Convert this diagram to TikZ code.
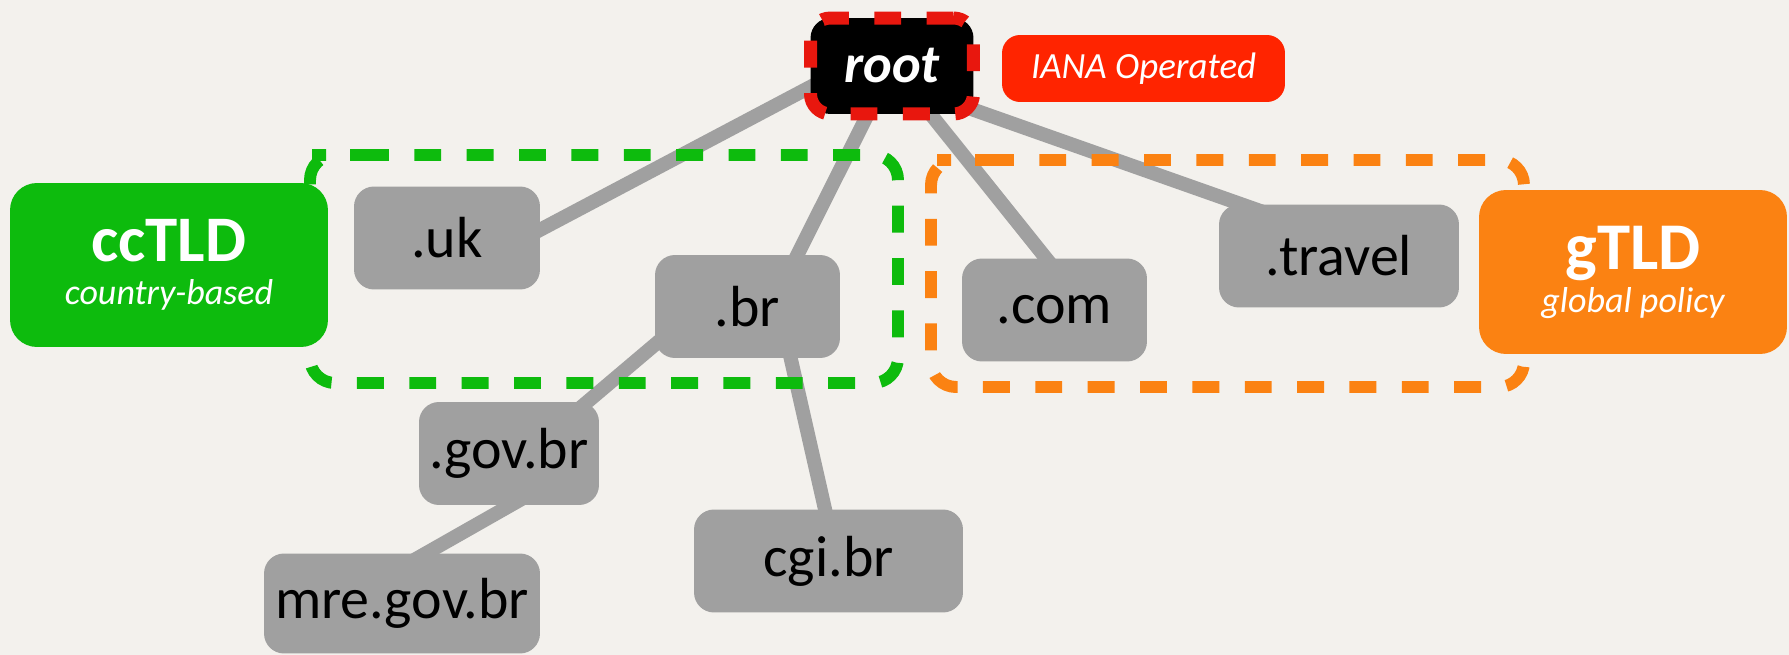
\documentclass[tikz,border=0pt]{standalone}
\usepackage{fontspec}
\setmainfont{Carlito}
\usepackage{xcolor}
\usepackage{tikz}
\usetikzlibrary{calc,backgrounds}
\definecolor{paper}{HTML}{F3F1ED}
\definecolor{boxgrey}{HTML}{A0A0A0}
\definecolor{ccgreen}{HTML}{0DBB0D}
\definecolor{gorange}{HTML}{FB8212}
\definecolor{ianared}{HTML}{FF2400}
\definecolor{rootred}{HTML}{E8170E}
\tikzset{
  Domain/.style={
    fill=boxgrey, text=black,
    rounded corners=0.4cm, inner sep=0pt,
    minimum height=2.06cm,
    font=\fontsize{33}{36}\selectfont
  },
  TagBox/.style={
    text=white, inner sep=0pt, align=center,
    rounded corners=0.54cm,
    minimum width=6.3cm, minimum height=3.28cm,
    font=\fontsize{20.5}{33}\selectfont
  },
  Link/.style={draw=boxgrey, line width=8pt},
  Zone/.style={
    line width=6.8pt,
    dash pattern=on 15.3pt off 14.5pt,
    rounded corners=0.5cm
  }
}

\begin{document}
\begin{tikzpicture}[x=0.02cm, y=-0.02cm, line join=round]
  \useasboundingbox (0,0) rectangle (1789,655);

  % top of the tree
  \node[fill=black, draw=rootred, line width=7.4pt,
        dash pattern=on 15.3pt off 14.5pt, rounded corners=0.4cm,
        minimum width=3.26cm, minimum height=1.92cm, inner sep=0pt,
        text=white, font=\fontsize{31}{34}\selectfont\bfseries\itshape] (root) at (892,66) {root};
  \node[fill=ianared, text=white, rounded corners=0.36cm, inner sep=0pt,
        minimum width=5.66cm, minimum height=1.34cm,
        font=\fontsize{21}{24}\selectfont\itshape] (iana) at (1143.5,68.5) {IANA Operated};

  % top level domains
  \node[Domain, minimum width=3.72cm] (uk) at (447,238) {.uk};
  \node[Domain, minimum width=3.7cm] (br) at (747.5,306.5) {.br};
  \node[Domain, minimum width=3.7cm] (com) at (1054.5,310) {.com};
  \node[Domain, minimum width=4.8cm] (travel) at (1339,256) {.travel};

  % below .br
  \node[Domain, minimum width=3.6cm] (govbr) at (509,453.5) {.gov.br};
  \node[Domain, minimum width=5.52cm, minimum height=2cm] (mre) at (402,603.5) {mre.gov.br};
  \node[Domain, minimum width=5.38cm] (cgi) at (828.5,561) {cgi.br};

  % group labels
  \node[TagBox, fill=ccgreen, minimum width=6.36cm] (cctld) at (169,265)
    {{\fontsize{37}{33}\selectfont\bfseries ccTLD}\\[-8.5pt]{\itshape country-based}};
  \node[TagBox, fill=gorange, minimum width=6.16cm] (gtld) at (1633,272)
    {{\fontsize{38}{33}\selectfont\bfseries gTLD}\\[-8.5pt]{\itshape global policy}};

  \begin{scope}[on background layer]
    \fill[paper] (0,0) rectangle (1789,655);
    % tree edges
    \draw[Link] ($(root)+(-42,0)$) -- ($(uk)+(53,13)$);
    \draw[Link] (root.center) -- ($(br)+(27,-6)$);
    \draw[Link] (root.center) -- ($(com)+(33,0)$);
    \draw[Link] ($(root)+(0,15)$) -- ($(travel)+(-39,-31)$);
    \draw[Link] ($(br)+(-47.5,0)$) -- ($(govbr)+(51,-28.5)$);
    \draw[Link] ($(br)+(34.5,13.5)$) -- ($(cgi)+(3.5,-21)$);
    \draw[Link] ($(govbr)+(46,26.5)$) -- ($(mre)+(-23,-23.5)$);
    % dashed zones
    \draw[Zone, draw=ccgreen] (337,155) -- (898,155) -- (898,383) -- (310,383) -- (310,155) -- cycle;
    \draw[Zone, draw=gorange] (962,160) -- (1524,160) -- (1524,387) -- (931,387) -- (931,160) -- cycle;
  \end{scope}
\end{tikzpicture}
\end{document}
